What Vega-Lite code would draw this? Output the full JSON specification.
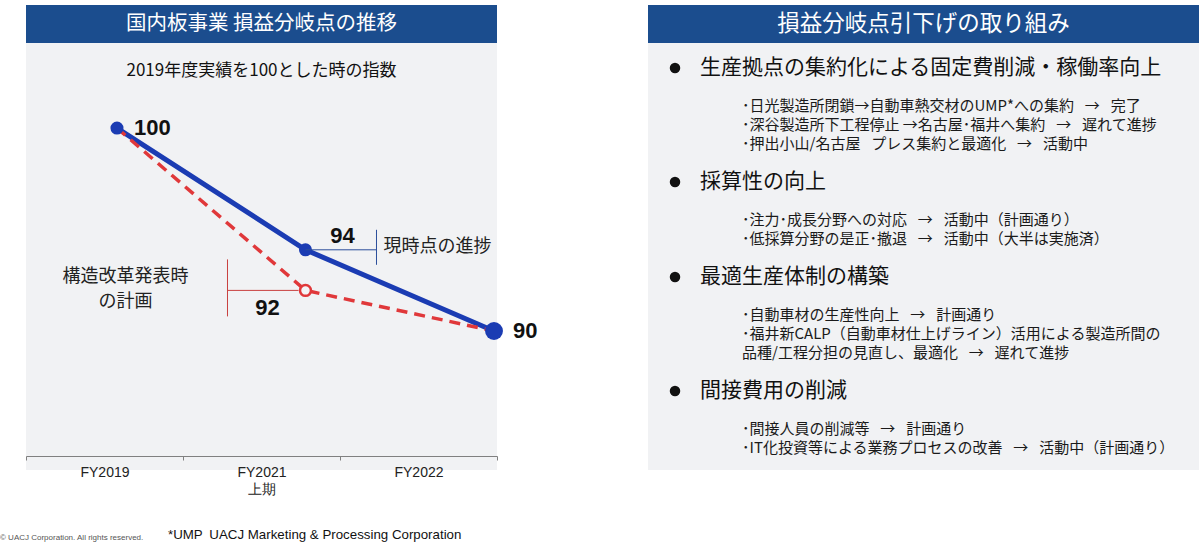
{
  "$schema": "https://vega.github.io/schema/vega-lite/v6.json",
  "background": "white",
  "padding": {"left": 0, "top": 5, "right": 0, "bottom": 0},
  "config": {"view": {"stroke": null}, "font": "Noto Sans CJK JP"},
  "datasets": {
    "index": [
      {"period": "FY2019", "series": "実績", "value": 100},
      {"period": "FY2021上期", "series": "実績", "value": 94},
      {"period": "FY2022", "series": "実績", "value": 90},
      {"period": "FY2019", "series": "計画", "value": 100},
      {"period": "FY2021上期", "series": "計画", "value": 92},
      {"period": "FY2022", "series": "計画", "value": 90}
    ],
    "measures": [
      {"line": 0, "level": 1, "text": "生産拠点の集約化による固定費削減・稼働率向上"},
      {"line": 2, "level": 2, "text": "･日光製造所閉鎖→自動車熱交材のUMP*への集約 \u2002→\u2002 完了"},
      {"line": 3, "level": 2, "text": "･深谷製造所下工程停止 →名古屋･福井へ集約 \u2002→\u2002 遅れて進捗"},
      {"line": 4, "level": 2, "text": "･押出小山/名古屋 \u2002プレス集約と最適化 \u2002→\u2002 活動中"},
      {"line": 6, "level": 1, "text": "採算性の向上"},
      {"line": 8, "level": 2, "text": "･注力･成長分野への対応 \u2002→\u2002 活動中（計画通り）"},
      {"line": 9, "level": 2, "text": "･低採算分野の是正･撤退 \u2002→\u2002 活動中（大半は実施済）"},
      {"line": 11, "level": 1, "text": "最適生産体制の構築"},
      {"line": 13, "level": 2, "text": "･自動車材の生産性向上 \u2002→\u2002 計画通り"},
      {"line": 14, "level": 2, "text": "･福井新CALP（自動車材仕上げライン）活用による製造所間の"},
      {"line": 15, "level": 2, "text": "\u2002品種/工程分担の見直し、最適化 \u2002→\u2002 遅れて進捗"},
      {"line": 17, "level": 1, "text": "間接費用の削減"},
      {"line": 19, "level": 2, "text": "･間接人員の削減等 \u2002→\u2002 計画通り"},
      {"line": 20, "level": 2, "text": "･IT化投資等による業務プロセスの改善 \u2002→\u2002 活動中（計画通り）"}
    ],
    "notes": [
      {"part": "copyright", "text": "© UACJ Corporation. All rights reserved."},
      {"part": "note", "text": "*UMP\u2002UACJ Marketing & Processing Corporation"}
    ]
  },
  "columns": 2,
  "spacing": {"row": 0, "column": 151},
  "bounds": "flush",
  "concat": [
    {
      "width": 471,
      "height": 38,
      "view": {"fill": "#1b4d8e", "stroke": null},
      "data": {"values": [{"heading": "国内板事業 損益分岐点の推移"}]},
      "mark": {"type": "text", "color": "white", "fontSize": 20.5, "baseline": "middle", "align": "center"},
      "encoding": {"text": {"field": "heading"}}
    },
    {
      "width": 551,
      "height": 38,
      "view": {"fill": "#1b4d8e", "stroke": null},
      "data": {"values": [{"heading": "損益分岐点引下げの取り組み"}]},
      "mark": {"type": "text", "color": "white", "fontSize": 22.5, "baseline": "middle", "align": "center"},
      "encoding": {"text": {"field": "heading"}}
    },
    {
      "width": 471,
      "height": 427,
      "view": {"fill": "#f1f2f4", "stroke": null},
      "title": {"text": "2019年度実績を100とした時の指数", "offset": -37, "fontSize": 17, "fontWeight": "normal", "color": "#111111", "anchor": "middle"},
      "data": {"name": "index"},
      "layer": [
        {
          "mark": {"type": "point", "opacity": 0},
          "encoding": {
            "x": {
              "field": "period", "type": "ordinal",
              "scale": {"type": "band", "domain": ["FY2019", "FY2021上期", "FY2022"], "paddingInner": 0, "paddingOuter": 0},
              "axis": {"title": null, "offset": -14, "orient": "bottom", "domainColor": "#808080", "tickColor": "#808080", "tickBand": "extent", "tickSize": 4, "labelFont": "Liberation Sans", "labelFontSize": 14, "labelColor": "#222222", "labelPadding": 5, "labelAngle": 0, "labelLineHeight": 17, "labelBaseline": "top", "labelExpr": "datum.value == 'FY2021上期' ? ['FY2021', '上期'] : datum.value", "grid": false}
            }
          }
        },
        {
          "encoding": {
            "x": {"field": "period", "type": "ordinal", "scale": {"type": "point", "domain": ["FY2019", "FY2021上期", "FY2022"], "padding": 0.2493, "align": 0.968}, "axis": null},
            "y": {"field": "value", "type": "quantitative", "scale": {"domain": [83.15, 104.19], "nice": false, "zero": false}, "axis": null}
          },
          "layer": [
            {"transform": [{"filter": "datum.series == '実績'"}], "mark": {"type": "line", "color": "#1b3cb3", "strokeWidth": 5}},
            {"transform": [{"filter": "datum.series == '計画'"}], "mark": {"type": "line", "color": "#e0383a", "strokeWidth": 3.5, "strokeDash": [11, 7]}},
            {"transform": [{"filter": "datum.series == '実績'"}], "mark": {"type": "point", "shape": "circle", "filled": true, "color": "#1b3cb3", "opacity": 1},
             "encoding": {"size": {"condition": {"test": "datum.period == 'FY2022'", "value": 320}, "value": 170}}},
            {"transform": [{"filter": "datum.series == '計画' && datum.period == 'FY2021上期'"}], "mark": {"type": "point", "shape": "circle", "filled": true, "fill": "#f4f4f6", "stroke": "#e0383a", "strokeWidth": 2.5, "size": 120, "opacity": 1}},
            {"transform": [{"filter": "datum.series == '実績' && datum.period == 'FY2021上期'"}], "mark": {"type": "rule", "color": "#2b4e9b", "strokeWidth": 1, "x2Offset": 71}, "encoding": {"x2": {"field": "period"}}},
            {"transform": [{"filter": "datum.series == '実績' && datum.period == 'FY2021上期'"}], "mark": {"type": "rule", "color": "#2b4e9b", "strokeWidth": 1, "xOffset": 71, "yOffset": -20, "y2Offset": 15}, "encoding": {"y2": {"field": "value"}}},
            {"transform": [{"filter": "datum.series == '計画' && datum.period == 'FY2021上期'"}], "mark": {"type": "rule", "color": "#c9403f", "strokeWidth": 1, "xOffset": -78, "x2Offset": -7}, "encoding": {"x2": {"field": "period"}}},
            {"transform": [{"filter": "datum.series == '計画' && datum.period == 'FY2021上期'"}], "mark": {"type": "rule", "color": "#c9403f", "strokeWidth": 1, "xOffset": -78, "yOffset": -31, "y2Offset": 26}, "encoding": {"y2": {"field": "value"}}},
            {"transform": [{"filter": "datum.series == '実績' && datum.period == 'FY2019'"}], "mark": {"type": "text", "align": "left", "baseline": "middle", "dx": 17, "font": "Liberation Sans", "fontWeight": "bold", "fontSize": 22, "color": "#111111"}, "encoding": {"text": {"field": "value"}}},
            {"transform": [{"filter": "datum.series == '実績' && datum.period == 'FY2021上期'"}], "mark": {"type": "text", "align": "center", "baseline": "middle", "dx": 37, "dy": -14, "font": "Liberation Sans", "fontWeight": "bold", "fontSize": 22, "color": "#111111"}, "encoding": {"text": {"field": "value"}}},
            {"transform": [{"filter": "datum.series == '計画' && datum.period == 'FY2021上期'"}], "mark": {"type": "text", "align": "center", "baseline": "middle", "dx": -38, "dy": 18, "font": "Liberation Sans", "fontWeight": "bold", "fontSize": 22, "color": "#111111"}, "encoding": {"text": {"field": "value"}}},
            {"transform": [{"filter": "datum.series == '実績' && datum.period == 'FY2022'"}], "mark": {"type": "text", "align": "left", "baseline": "middle", "dx": 19, "font": "Liberation Sans", "fontWeight": "bold", "fontSize": 22, "color": "#111111"}, "encoding": {"text": {"field": "value"}}},
            {"transform": [{"filter": "datum.series == '実績' && datum.period == 'FY2021上期'"}], "mark": {"type": "text", "text": "現時点の進捗", "align": "left", "baseline": "middle", "dx": 78, "dy": -3, "fontSize": 18, "color": "#222222"}},
            {"transform": [{"filter": "datum.series == '計画' && datum.period == 'FY2021上期'"}], "mark": {"type": "text", "text": ["構造改革発表時", "の計画"], "align": "center", "baseline": "middle", "dx": -180, "dy": -13, "lineHeight": 25, "fontSize": 18, "color": "#222222"}}
          ]
        }
      ],
      "resolve": {"scale": {"x": "independent"}, "axis": {"x": "independent"}}
    },
    {
      "width": 551,
      "height": 427,
      "view": {"fill": "#f1f2f4", "stroke": null},
      "data": {"name": "measures"},
      "encoding": {
        "x": {"field": "level", "type": "quantitative", "scale": {"domain": [-0.238, 12.88], "nice": false, "zero": false}, "axis": null},
        "y": {"field": "line", "type": "quantitative", "scale": {"domain": [-1.3158, 21.158], "reverse": true, "nice": false, "zero": false}, "axis": null}
      },
      "layer": [
        {"transform": [{"filter": "datum.level == 1"}], "mark": {"type": "point", "shape": "circle", "filled": true, "color": "#111111", "size": 110, "opacity": 1, "xOffset": -25}},
        {"transform": [{"filter": "datum.level == 1"}], "mark": {"type": "text", "align": "left", "baseline": "middle", "fontSize": 21, "color": "#111111"}, "encoding": {"text": {"field": "text"}}},
        {"transform": [{"filter": "datum.level == 2"}], "mark": {"type": "text", "align": "left", "baseline": "middle", "fontSize": 15, "color": "#1a1a1a"}, "encoding": {"text": {"field": "text"}}}
      ]
    },
    {
      "width": 471,
      "height": 74,
      "data": {"name": "notes"},
      "encoding": {
        "x": {"field": "part", "type": "nominal", "scale": {"type": "point", "domain": ["copyright", "note"], "range": [-26, 142], "padding": 0}, "axis": null},
        "text": {"field": "text"}
      },
      "layer": [
        {"transform": [{"filter": "datum.part == 'copyright'"}], "mark": {"type": "text", "align": "left", "baseline": "middle", "fontSize": 8, "font": "Liberation Sans", "color": "#555555", "dy": 31}},
        {"transform": [{"filter": "datum.part == 'note'"}], "mark": {"type": "text", "align": "left", "baseline": "middle", "fontSize": 13.3, "font": "Liberation Sans", "color": "#111111", "dy": 28}}
      ]
    }
  ]
}
